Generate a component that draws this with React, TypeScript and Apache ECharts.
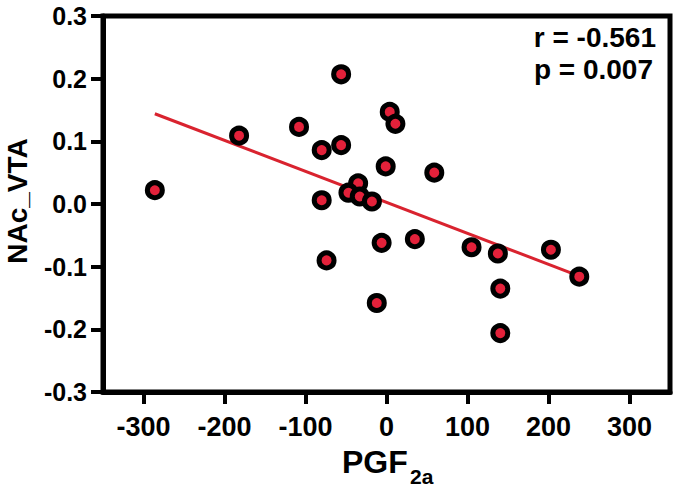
import React, { useEffect, useRef } from "react";
import * as echarts from "echarts";

// PGF2a (x) values
const pgf: number[] = [
  -286, -182, -108, -56, 4, 11, -80, -56, -1, -35, -47, -33, -18, -80, 59,
  -74, -6, -12, 35, 105, 137.5, 203, 238, 140.5, 140.5,
];
// NAc_VTA (y) values
const nac: number[] = [
  0.022, 0.109, 0.123, 0.207, 0.147, 0.128, 0.086, 0.094, 0.06, 0.033, 0.018,
  0.012, 0.004, 0.006, 0.05, -0.09, -0.062, -0.158, -0.056, -0.069, -0.079,
  -0.073, -0.116, -0.135, -0.206,
];
// regression line end points
const fitX: number[] = [-286, 238];
const fitY: number[] = [0.144, -0.115];

const xTicks: number[] = [-300, -200, -100, 0, 100, 200, 300];
const statLines: string[] = ["r = -0.561", "p = 0.007"];
const yTitle = "NAc_VTA";
const xTitleMain = "PGF";
const xTitleSub = "2a";

const FONT = "'Liberation Sans', Arial, sans-serif";

export default function App() {
  const ref = useRef<HTMLDivElement>(null);
  useEffect(() => {
    if (!ref.current) return;
    const chart = echarts.init(ref.current, undefined, { renderer: "svg" });
    const option: any = {
      animation: false,
      backgroundColor: "#ffffff",
      grid: {
        left: 103,
        right: 10,
        top: 16,
        bottom: 99,
        show: true,
        borderColor: "#000",
        borderWidth: 5,
        backgroundColor: "transparent",
      },
      xAxis: {
        type: "value",
        min: -350,
        max: 350,
        splitLine: { show: false },
        axisLine: { show: true, onZero: false, lineStyle: { color: "#000", width: 5 } },
        axisTick: {
          show: true,
          length: 12,
          lineStyle: { color: "#000", width: 4 },
          customValues: xTicks,
        },
        axisLabel: {
          customValues: xTicks,
          color: "#000",
          fontSize: 27,
          fontWeight: "bold",
          fontFamily: FONT,
          margin: 21,
        },
      },
      yAxis: {
        type: "value",
        min: -0.3,
        max: 0.3,
        interval: 0.1,
        splitLine: { show: false },
        axisLine: { show: true, onZero: false, lineStyle: { color: "#000", width: 5 } },
        axisTick: {
          show: true,
          length: 12,
          lineStyle: { color: "#000", width: 4 },
        },
        axisLabel: {
          color: "#000",
          fontSize: 25,
          fontWeight: "bold",
          fontFamily: FONT,
          margin: 16,
          formatter: (v: number) => (Math.abs(v) < 1e-9 ? 0 : v).toFixed(1),
        },
      },
      series: [
        {
          type: "line",
          data: fitX.map((x, i) => [x, fitY[i]]),
          showSymbol: false,
          symbol: "none",
          lineStyle: { color: "#d9232f", width: 3 },
          z: 2,
        },
        {
          type: "scatter",
          data: pgf.map((x, i) => [x, nac[i]]),
          symbol: "circle",
          symbolSize: 15,
          itemStyle: {
            color: "#e3213a",
            borderColor: "#000",
            borderWidth: 5,
            opacity: 1,
          },
          z: 3,
        },
      ],
      graphic: [
        {
          type: "text",
          right: 24,
          top: 23,
          style: {
            text: statLines[0],
            fontSize: 28,
            fontWeight: "bold",
            fontFamily: FONT,
            fill: "#000",
          },
        },
        {
          type: "text",
          right: 27,
          top: 55,
          style: {
            text: statLines[1],
            fontSize: 28,
            fontWeight: "bold",
            fontFamily: FONT,
            fill: "#000",
          },
        },
        {
          type: "text",
          x: 17,
          y: 201,
          rotation: Math.PI / 2,
          style: {
            text: yTitle,
            fontSize: 28,
            fontWeight: "bold",
            fontFamily: FONT,
            fill: "#000",
            align: "center",
            verticalAlign: "middle",
          },
        },
        {
          type: "text",
          x: 342,
          y: 446,
          style: {
            text: xTitleMain,
            fontSize: 32,
            fontWeight: "bold",
            fontFamily: FONT,
            fill: "#000",
            align: "left",
            verticalAlign: "top",
          },
        },
        {
          type: "text",
          x: 410,
          y: 466,
          style: {
            text: xTitleSub,
            fontSize: 21,
            fontWeight: "bold",
            fontFamily: FONT,
            fill: "#000",
            align: "left",
            verticalAlign: "top",
          },
        },
      ],
    };
    chart.setOption(option);
    return () => chart.dispose();
  }, []);
  return (
    <div
      ref={ref}
      style={{
        position: "fixed",
        left: 0,
        top: 0,
        width: 680,
        height: 491,
        background: "#fff",
      }}
    />
  );
}
